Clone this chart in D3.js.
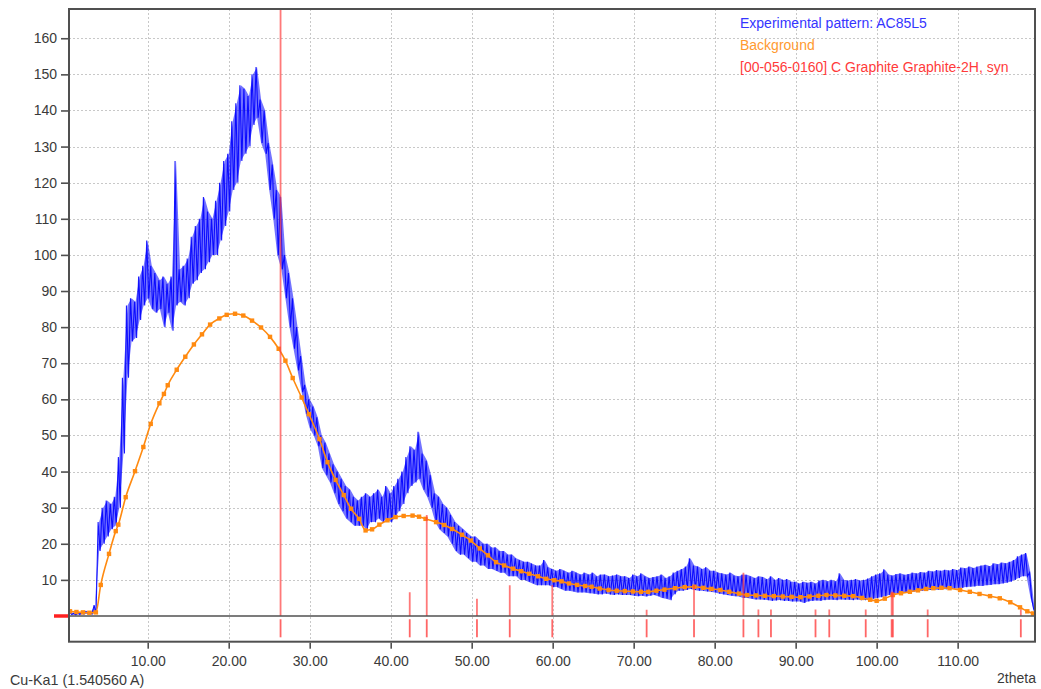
<!DOCTYPE html>
<html>
<head>
<meta charset="utf-8">
<script src="https://cdn.jsdelivr.net/npm/d3@7"></script>
<style>
  html, body { margin: 0; padding: 0; background: #fff; }
  text { font-family: "Liberation Sans", Arial, sans-serif; }
</style>
</head>
<body>
<svg id="chart" width="1041" height="689"></svg>
<script>
// ---------------- DATA ----------------
// Experimental pattern: 2theta bins (start, step) with upper / lower envelope of the noisy counts
const binStart = 0.5, binStep = 0.5;
const blueHi = [
  1.0,0.8,1.0,1.2,1.3,1.1,3,26,30,32,
  31,33,44,66,86,88,87,94,97,104,
  97,95,93,94,92,94,126,96,97,99,
  105,108,110,116,112,110,115,120,126,128,
  137,142,147,146,144,150,152,143,140,131,
  125,118,116,100,95,88,80,72,64,60,
  58,55,50,48,45,42,40,38,36,35,
  33,32,33,34,33,34,35,33,36,34,
  36,38,40,44,47,46,51,45,43,39,
  34,33,31,30,28,26,25,24,23,22,
  22,21,20,20,19,19,18,18,17,17,
  16,15.5,15,15,14.5,14,14,15.5,13.5,13,
  12.5,13,12.5,12,12.5,12,11.5,12,11.5,12,
  11,11.5,11.5,11,11.2,11.5,11,11,10.5,11.5,
  11,11.8,11,10.5,10.8,11,11.5,10.5,11,12,
  12.5,13,13.7,16,14,13.7,13,13.5,12.5,12.5,
  12,11.8,11.5,12,11.2,11,11.5,11.4,11,10.5,
  11,10.8,10.2,11,10,10.5,10,10.2,9.5,9.5,
  9,9.5,9.2,9.5,9,9.8,10,9.6,10,9.6,
  11.8,10,9.8,10,10.2,9.8,10,10.4,11,11.5,
  11.8,12.9,11.5,11.2,11.6,11.8,11.4,11.6,12,11.8,
  12.2,12,12.5,12.3,12.7,12.5,12.8,12.6,13,12.7,
  13.4,13.2,13.7,13.3,13.7,14,14.2,13.8,14.6,14.3,
  14.8,14.6,15,15.5,16.5,17,17.4,12,2
];
const blueLo = [
  0.4,0.3,0.4,0.5,0.6,0.5,0.8,18,20,22,
  24,25,30,45,66,76,77,82,86,88,
  85,84,85,80,84,79,86,87,86,88,
  92,93,95,96,98,100,100,104,108,112,
  118,120,126,128,130,136,138,131,128,118,
  110,100,96,88,80,74,68,62,56,52,
  50,47,41,39,37,34,31,29,27,26,
  25,25,25,24,26,26,27,26,27,26,
  27,29,31,34,36,37,38,35,33,30,
  26,24,23,22,20,18,17,17,16,15,
  15,14,14,13,13,12.5,12,12,11,11,
  11,10,10,9.5,9,8.5,8.5,8.5,8.5,8,
  8,7.5,7,7,6.8,6.5,6.5,6.5,6.3,6.2,
  6,6,6.2,6,5.8,6,5.8,5.8,5.8,5.6,
  5.5,5.6,5.4,5.6,5.8,5.5,5,4.8,4.4,6,
  7,7,7.2,7.5,7.2,7,7,6.8,6.7,6.5,
  6.2,6,5.8,5.6,5.5,5.4,5,5,4.8,4.6,
  4.6,4.5,4.4,4.2,4.3,4.4,4.2,4.2,4,4,
  4,3.6,4,4.2,4.3,4.2,4.4,4.5,4.5,4.4,
  4.6,4.5,4.5,4.4,4.6,4.4,4.4,4.5,4.8,5,
  5.2,5.4,5.8,6,6.2,6.4,6.6,6.7,6.8,6.8,
  7,7,7.2,7.2,7.3,7.4,7.4,7.5,7.6,7.6,
  7.8,8,8.1,8.2,8.4,8.3,8.5,8.6,8.8,8.8,
  9,9.2,9.5,10,10.5,11,11,5,0.7
];

// Background points
const bgX = [0.4,1.2,2.0,2.8,3.6,4.2,5.22,6.05,6.37,7.28,8.43,9.46,10.37,11.44,12.0,12.47,13.58,14.64,15.7,16.7,
  17.7,18.84,19.75,20.78,21.8,22.88,23.99,25.1,26.17,27.0,27.9,29.0,29.9,31.2,32.2,33.2,34.2,35.1,36.1,36.9,
  37.7,38.6,39.6,40.6,41.6,42.7,43.5,44.3,45.6,46.6,47.6,48.8,49.9,51.0,52.0,53.0,54.0,55.1,56.1,57.1,
  58.2,59.2,60.2,61.1,62.0,63.0,64.0,64.8,65.8,66.9,67.9,68.9,69.9,70.9,71.8,72.8,73.8,75.1,76.3,77.5,
  78.6,79.6,80.7,81.8,83.0,84.0,85.1,86.2,87.3,88.4,89.5,90.6,91.7,92.8,93.8,94.9,96.0,97.1,98.2,99.2,
  100.0,101.0,102.0,103.0,104.1,105.1,106.1,107.0,108.0,109.0,110.3,111.5,112.7,114.0,115.2,116.5,117.7,118.6,119.3];
const bgY = [1.3,1.1,1.0,0.9,1.0,8.6,17.2,23.5,25.3,32.9,40.1,46.8,53.2,58.9,61.5,63.9,68.2,71.8,75.2,78.0,
  80.7,82.4,83.4,83.7,83.2,81.8,79.9,77.3,74.0,70.7,65.9,60.5,55.9,49.0,42.6,37.7,33.5,29.7,26.9,23.7,
  24.0,25.3,26.5,27.4,27.7,27.8,27.5,26.9,26.0,25.2,24.1,22.5,20.9,18.7,16.8,14.9,14.0,13.1,12.4,11.7,
  11.0,10.3,9.9,9.6,9.0,8.6,8.3,8.1,7.6,7.2,7.0,6.9,6.8,6.7,6.7,7.0,7.3,7.7,8.0,8.1,
  7.8,7.5,7.2,6.7,6.2,5.8,5.7,5.6,5.5,5.4,5.3,5.2,5.4,5.6,5.8,5.7,5.6,5.5,5.0,4.5,
  4.2,4.8,5.8,6.3,6.7,7.1,7.5,7.7,7.8,7.7,7.2,6.7,6.1,5.5,4.9,3.8,2.4,1.3,0.7];

// Reference pattern sticks: [00-056-0160] C Graphite Graphite-2H, syn
const stickX = [26.4,42.35,44.45,50.65,54.7,59.95,71.6,77.45,83.55,85.4,86.95,92.45,94.15,98.65,101.85,102.0,106.3,117.8];
const stickH = [175,6.6,28,4.8,8.5,8.6,1.7,8.6,12,1.8,1.8,1.8,1.8,1.8,6.7,6.7,1.8,1.8];

const xTicks = [10,20,30,40,50,60,70,80,90,100,110];
const yTicks = [10,20,30,40,50,60,70,80,90,100,110,120,130,140,150,160];
const legendItems = ["Experimental pattern: AC85L5", "Background", "[00-056-0160] C Graphite Graphite-2H, syn"];
const xAxisTitle = "2theta";
const wavelengthLabel = "Cu-Ka1 (1.540560 A)";

// ---------------- LAYOUT ----------------
const L = 69, R = 1035, T = 9, B = 641.7;
const svg = d3.select("#chart");
const x = d3.scaleLinear().domain([0.28, 119.55]).range([L, R]);
const y = d3.scaleLinear().domain([-7.12, 168.1]).range([B, T]);
const stripTop = -0.9, stripBot = -5.9;

const COL_BLUE = "#0000ff", COL_ORANGE = "#ff8a10", COL_RED = "#ff4040";

const defs = svg.append("defs");
defs.append("clipPath").attr("id", "clip").append("rect")
  .attr("x", L).attr("y", T).attr("width", R - L).attr("height", B - T);

// grid
const grid = svg.append("g").attr("stroke", "#c8c8c8").attr("stroke-width", 1).attr("stroke-dasharray", "2,2");
grid.selectAll("line.h").data(yTicks).join("line")
  .attr("x1", L).attr("x2", R).attr("y1", d => Math.round(y(d)) + 0.5).attr("y2", d => Math.round(y(d)) + 0.5);
grid.selectAll("line.v").data(xTicks).join("line")
  .attr("y1", T).attr("y2", B).attr("x1", d => Math.round(x(d)) + 0.5).attr("x2", d => Math.round(x(d)) + 0.5);

const plot = svg.append("g").attr("clip-path", "url(#clip)");

// experimental pattern: dense band between envelopes + jagged trace
const blueBins = blueHi.map((h, i) => ({ t: binStart + i * binStep, hi: h, lo: blueLo[i] }));
plot.append("path").datum(blueBins)
  .attr("fill", COL_BLUE).attr("fill-opacity", 0.55).attr("stroke", "none")
  .attr("d", d3.area().x(d => x(d.t)).y0(d => y(d.lo)).y1(d => y(d.hi)));
const bluePts = [];
blueBins.forEach(b => {
  bluePts.push([b.t - binStep / 4, b.hi]);
  bluePts.push([b.t + binStep / 4, b.lo]);
});
plot.append("path").datum(bluePts)
  .attr("fill", "none").attr("stroke", COL_BLUE).attr("stroke-width", 1.1).attr("stroke-opacity", 0.9)
  .attr("d", d3.line().x(d => x(d[0])).y(d => y(d[1])));

// background
const bg = bgX.map((v, i) => [v, bgY[i]]);
plot.append("path").datum(bg)
  .attr("fill", "none").attr("stroke", COL_ORANGE).attr("stroke-width", 1.6)
  .attr("d", d3.line().curve(d3.curveMonotoneX).x(d => x(d[0])).y(d => y(d[1])));
plot.append("g").selectAll("rect").data(bg).join("rect")
  .attr("x", d => x(d[0]) - 2.2).attr("y", d => y(d[1]) - 2.2)
  .attr("width", 4.4).attr("height", 4.4).attr("fill", COL_ORANGE);

// sticks above baseline (semi-transparent, over the traces)
plot.append("g").selectAll("line").data(stickX).join("line")
  .attr("x1", d => x(d)).attr("x2", d => x(d))
  .attr("y1", y(0)).attr("y2", (d, i) => y(stickH[i]))
  .attr("stroke", COL_RED).attr("stroke-opacity", 0.7).attr("stroke-width", 1.8);

// sticks marker strip below baseline
svg.append("g").selectAll("line").data(stickX).join("line")
  .attr("x1", d => x(d)).attr("x2", d => x(d))
  .attr("y1", y(stripTop)).attr("y2", y(stripBot))
  .attr("stroke", COL_RED).attr("stroke-opacity", 0.8).attr("stroke-width", 1.8);

// baseline
svg.append("line").attr("x1", L).attr("x2", R).attr("y1", y(0)).attr("y2", y(0))
  .attr("stroke", "#505050").attr("stroke-width", 1.6);
// red pattern marker at left of baseline
svg.append("line").attr("x1", 54).attr("x2", L).attr("y1", y(0)).attr("y2", y(0))
  .attr("stroke", "#ff2020").attr("stroke-width", 3.5);

// frame
svg.append("rect").attr("x", L).attr("y", T).attr("width", R - L).attr("height", B - T)
  .attr("fill", "none").attr("stroke", "#505050").attr("stroke-width", 2);

// axes
const yAxis = svg.append("g").attr("transform", `translate(${L - 1},0)`)
  .call(d3.axisLeft(y).tickValues(yTicks).tickSize(7).tickPadding(4).tickFormat(d3.format("d")));
const xAxis = svg.append("g").attr("transform", `translate(0,${B + 1})`)
  .call(d3.axisBottom(x).tickValues(xTicks).tickSize(6).tickPadding(7).tickFormat(d3.format(".2f")));
[yAxis, xAxis].forEach(a => {
  a.select(".domain").remove();
  a.selectAll(".tick line").attr("stroke", "#505050").attr("stroke-width", 1.6);
  a.selectAll(".tick text").attr("fill", "#3a3a3a").style("font-size", "14px")
    .style("font-family", '"Liberation Sans", Arial, sans-serif');
});

// axis labels
svg.append("text").attr("x", 10).attr("y", 685).attr("fill", "#3a3a3a").style("font-size", "14.3px").text(wavelengthLabel);
svg.append("text").attr("x", 1036).attr("y", 683).attr("text-anchor", "end").attr("fill", "#3a3a3a").style("font-size", "14px").text(xAxisTitle);

// legend
const legendCols = ["#3535ff", "#ff9a30", "#ff3a3a"];
svg.append("g").selectAll("text").data(legendItems).join("text")
  .attr("x", 740).attr("y", (d, i) => 27.5 + i * 22.3)
  .attr("fill", (d, i) => legendCols[i]).style("font-size", "14px").text(d => d);
</script>
</body>
</html>
